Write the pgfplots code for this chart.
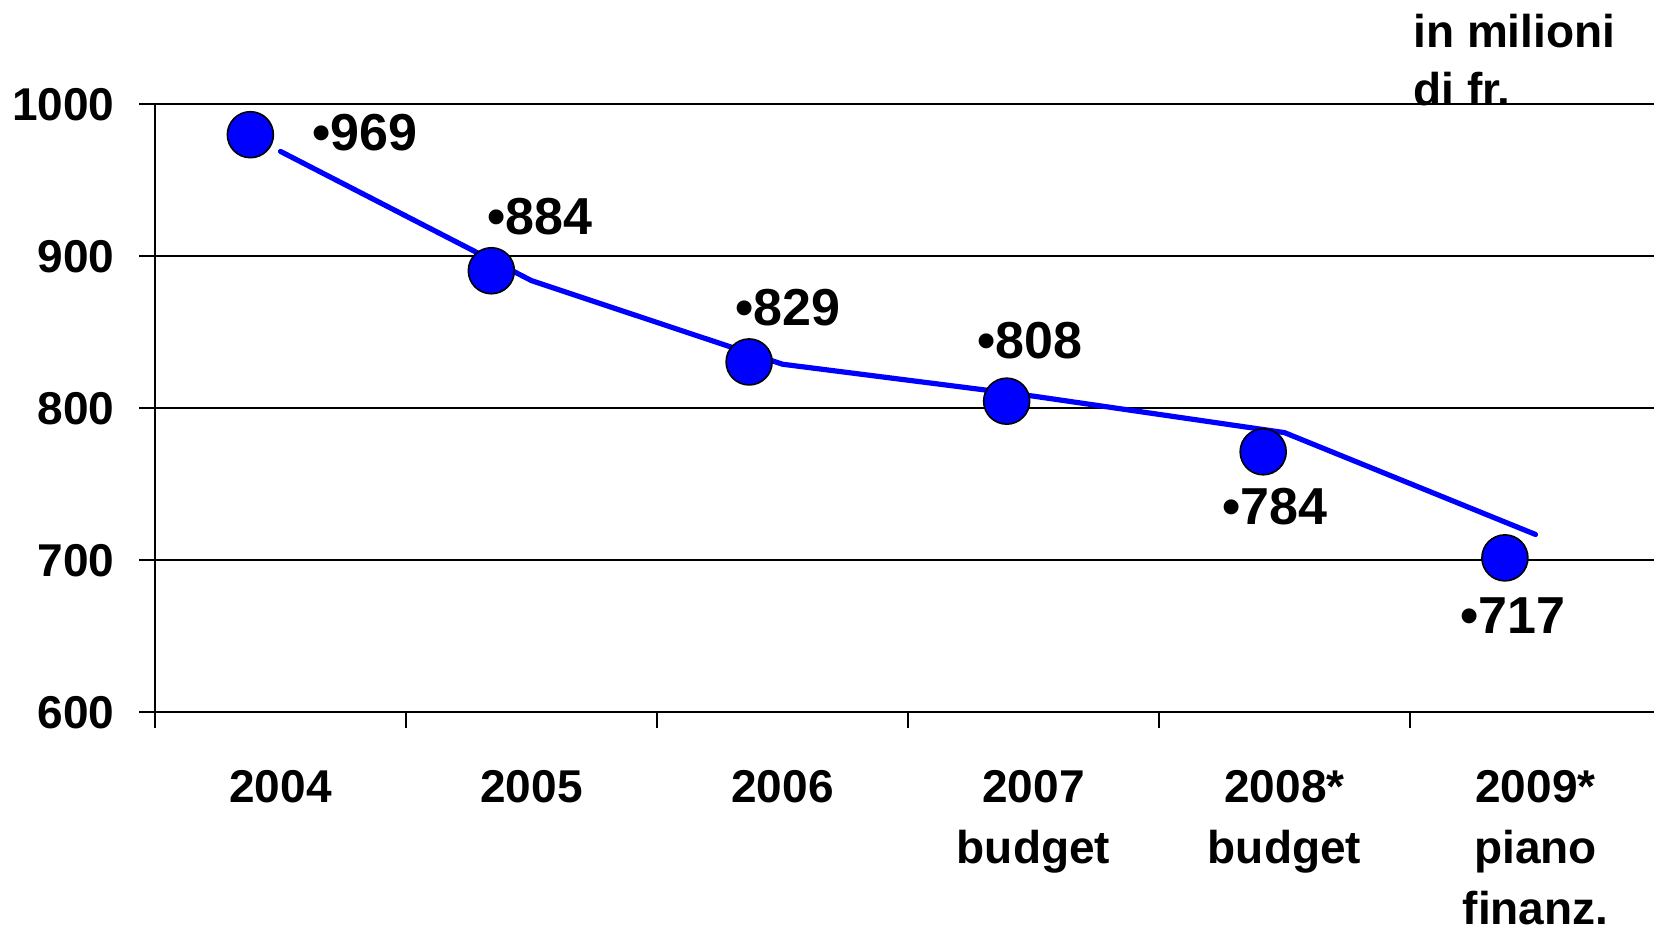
\documentclass[border=0pt]{standalone}
\usepackage{fontspec}
\setmainfont{Liberation Sans}
\usepackage{pgfplots}
\pgfplotsset{compat=1.18}
\definecolor{serie}{RGB}{0,0,255}

\begin{document}
\begin{tikzpicture}
\begin{axis}[
  name=ax,
  scale only axis,
  width=749.5pt, height=304pt,
  xmin=-0.5, xmax=5.472,
  ymin=600, ymax=1000,
  clip=false,
  axis x line=bottom, axis y line=left,
  axis line style={-, black, line width=1pt},
  ytick={600,700,...,1000},
  ymajorgrids,
  grid style={black, line width=1pt},
  xtick={-0.5,0.5,...,4.5},
  xticklabels={},
  extra x ticks={0,1,2,3,4,5},
  extra x tick labels={2004,2005,2006,{2007\\budget},{2008*\\budget},{2009*\\piano\\finanz.}},
  extra x tick style={major tick length=0pt, grid=none},
  tick align=outside,
  major tick length=8pt,
  tick style={black, line width=1pt},
  /pgf/number format/assume math mode=true,
  /pgf/number format/1000 sep={},
  yticklabel style={font=\fontsize{23}{27}\selectfont\bfseries, anchor=east, inner sep=0pt, xshift=-12pt},
  xticklabel style={font=\fontsize{23}{30.5}\selectfont\bfseries, align=center, anchor=north, inner sep=0pt, yshift=-28.9pt},
]
% linea dei valori
\addplot[serie, line width=2.6pt, line cap=round, line join=round, mark=none]
  coordinates {(0,969) (1,884) (2,829) (3,808) (4,784) (5,717)};
% cerchi
\addplot[only marks, mark=*, mark size=11.5pt,
  mark options={fill=serie, draw=black, line width=0.8pt}]
  coordinates {(-0.12,980) (0.84,890.5) (1.867,830.5) (2.893,804.7) (3.915,771.4) (4.878,701.6)};
% etichette
\addplot[draw=none, mark=none, nodes near coords, point meta=explicit symbolic,
  every node near coord/.append style={anchor=west, inner sep=0pt,
    font=\fontsize{26}{30}\selectfont\bfseries}]
  table[meta=lab] {
x      y      lab
0.125  981.4  •969
0.822  926.0  •884
1.812  866.2  •829
2.774  844.5  •808
3.750  735.2  •784
4.700  663.8  •717
};
\node[anchor=north west, inner sep=0pt, align=left,
  font=\fontsize{23}{29.3}\selectfont\bfseries, yshift=45.5pt]
  at (axis cs:4.512,1000) {in milioni\\di fr.};
\end{axis}
\pgfresetboundingbox
\path ([shift={(-77.5pt,-107.35pt)}]ax.south west) rectangle ([yshift=52.15pt]ax.north east);
\end{tikzpicture}
\end{document}
